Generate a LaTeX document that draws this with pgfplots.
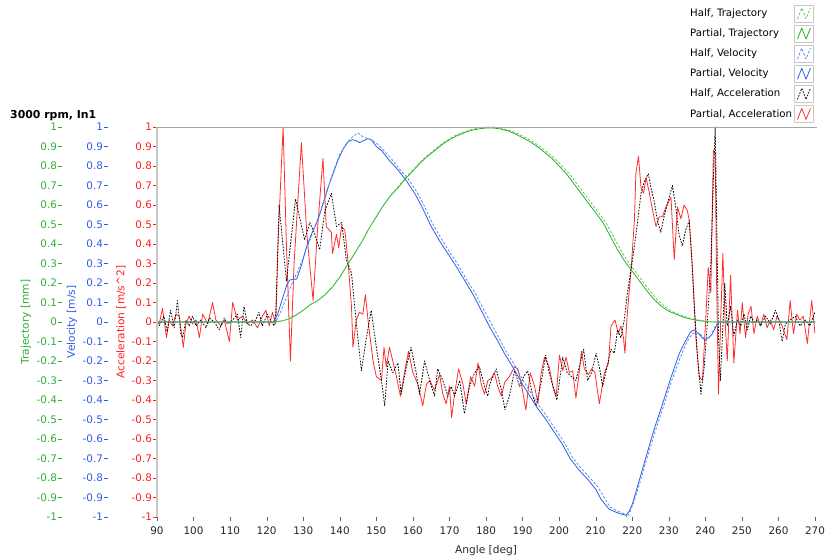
\documentclass[border=0pt]{standalone}
\usepackage{fontspec}
\setmainfont{DejaVu Sans}
\usepackage{pgfplots}
\pgfplotsset{compat=1.18}
\definecolor{tgreen}{RGB}{40,175,40}
\definecolor{tgreenl}{RGB}{95,200,95}
\definecolor{vblue}{RGB}{45,95,230}
\definecolor{vbluel}{RGB}{90,135,250}
\definecolor{ared}{RGB}{255,45,45}
\definecolor{lblgreen}{RGB}{50,175,50}
\definecolor{lblblue}{RGB}{50,90,235}
\definecolor{lblred}{RGB}{255,30,30}
\pgfplotsset{
  base/.style={
    scale only axis, width=658pt, height=390pt, anchor=south west,
    xmin=90, xmax=270, ymin=-1, ymax=1,
    axis line style={draw=none},
    tick align=outside, major tick length=4pt,
    ytick={-1,-0.9,-0.8,-0.7,-0.6,-0.5,-0.4,-0.3,-0.2,-0.1,0,0.1,0.2,0.3,0.4,0.5,0.6,0.7,0.8,0.9,1},
    yticklabels={-1,-0.9,-0.8,-0.7,-0.6,-0.5,-0.4,-0.3,-0.2,-0.1,0,0.1,0.2,0.3,0.4,0.5,0.6,0.7,0.8,0.9,1},
    ytick pos=left,
    tick label style={font=\fontsize{10.4}{12}\selectfont},
    yticklabel style={inner xsep=0.8pt},
    label style={font=\fontsize{10.6}{12}\selectfont},
    ylabel style={at={(axis description cs:-0.0547,0.5)}, anchor=center},
    /pgf/number format/assume math mode=true,
  }
}
\begin{document}
\begin{tikzpicture}
\useasboundingbox (0,0) rectangle (838pt,558pt);
% green (trajectory) scale
\begin{axis}[base, at={(62pt,41pt)}, xtick=\empty,
  yticklabel style={text=lblgreen}, ytick style={color=lblgreen},
  ylabel={Trajectory [mm]}, ylabel style={text=lblgreen}]
\end{axis}
% blue (velocity) scale
\begin{axis}[base, at={(108pt,41pt)}, xtick=\empty,
  yticklabel style={text=lblblue}, ytick style={color=lblblue},
  ylabel={Velocity [m/s]}, ylabel style={text=lblblue}]
\end{axis}
% main axis (acceleration)
\begin{axis}[base, at={(157pt,41pt)},
  yticklabel style={text=lblred}, ytick style={color=lblred},
  ylabel={Acceleration [m/s\^{}2]}, ylabel style={text=lblred},
  xtick={90,100,...,270}, xtick pos=left, xtick style={color=black!60},
  xticklabel style={text=black!85, yshift=-2pt},
  xlabel={Angle [deg]}, xlabel style={text=black!85, yshift=-4pt},
  no markers,
  every axis plot/.append style={line join=round},
  title={\bfseries 3000 rpm, In1},
  title style={at={(axis description cs:-0.2234,1)}, anchor=base west, inner sep=0pt, yshift=2pt, font=\fontsize{10.9}{13}\selectfont},
  extra description/.code={
    \draw[black!22, line width=1.6pt] (axis description cs:0,0) -- (axis description cs:0,1);
    \draw[black!35, line width=0.8pt] (axis description cs:0,1) -- (axis description cs:1.003,1);},
  legend style={at={(axis description cs:1,1)}, anchor=south east, draw=none, fill=none,
    font=\fontsize{10.2}{12}\selectfont, row sep=2.4pt, yshift=2pt, xshift=2pt},
  legend cell align=left, legend plot pos=right, reverse legend,
  legend image code/.code={
    \draw[black!22,solid,line width=0.7pt,fill=white] (0pt,-8.5pt) rectangle (19pt,8.5pt);
    \draw[#1] (3pt,-5.5pt) -- (7.3pt,5.5pt) -- (11.6pt,-5.5pt) -- (16pt,5.5pt);},
]
% Partial, Acceleration
\addplot[ared, line width=0.8pt] coordinates {
(90.0,0.00) (90.6,-0.01) (91.5,0.07) (92.6,-0.08) (93.3,0.01) (94.2,-0.02) (95.2,0.04) (96.1,0.03) (97.2,-0.13) (97.9,-0.01)
(98.8,0.03) (99.7,-0.01) (100.7,0.01) (101.6,-0.08) (102.5,0.04) (103.9,-0.01) (105.2,0.10) (106.1,0.01) (107.5,-0.02) (108.4,0.01)
(109.8,-0.10) (110.7,0.10) (112.0,0.01) (113.4,0.03) (114.7,-0.01) (116.1,0.01) (117.5,-0.03) (118.8,0.03) (119.8,0.06) (120.7,-0.02)
(121.6,0.05) (122.5,-0.01) (123.2,0.45) (124.5,1.00) (125.4,0.40) (126.5,-0.20) (127.5,0.30) (129.5,0.92) (131.0,0.45) (132.7,0.11)
(134.0,0.50) (135.4,0.84) (136.3,0.49) (137.7,0.46) (138.0,0.35) (139.1,0.45) (139.7,0.38) (140.5,0.49) (141.4,0.47) (142.3,0.30)
(143.2,0.08) (143.6,-0.13) (144.5,0.01) (145.4,0.05) (146.3,0.04) (147.0,0.14) (147.9,-0.02) (149.1,-0.20) (150.0,-0.28) (151.4,-0.30)
(152.1,-0.13) (152.7,-0.23) (153.6,-0.13) (154.5,-0.20) (155.5,-0.28) (156.6,-0.38) (157.7,-0.26) (158.8,-0.15) (160.0,-0.26) (161.4,-0.32)
(162.7,-0.43) (163.7,-0.32) (164.6,-0.30) (165.9,-0.35) (167.3,-0.27) (168.2,-0.37) (169.1,-0.42) (170.0,-0.33) (170.6,-0.49) (171.4,-0.37)
(172.5,-0.24) (173.7,-0.32) (174.6,-0.42) (175.8,-0.28) (176.9,-0.33) (177.8,-0.21) (178.7,-0.32) (179.6,-0.37) (180.5,-0.30) (181.4,-0.29)
(182.3,-0.26) (183.2,-0.33) (184.2,-0.38) (185.1,-0.31) (186.4,-0.28) (187.8,-0.23) (188.7,-0.24) (189.6,-0.31) (190.9,-0.45) (192.1,-0.26)
(193.3,-0.33) (194.2,-0.42) (195.1,-0.26) (196.0,-0.18) (197.3,-0.23) (198.3,-0.33) (199.2,-0.38) (200.1,-0.17) (201.0,-0.25) (201.9,-0.18)
(202.8,-0.26) (203.7,-0.25) (204.6,-0.39) (205.5,-0.26) (206.1,-0.15) (206.9,-0.24) (208.0,-0.27) (208.9,-0.24) (209.8,-0.26) (211.0,-0.42)
(212.4,-0.26) (213.5,-0.21) (214.2,-0.02) (215.3,0.01) (216.2,-0.06) (216.9,-0.02) (217.6,-0.08) (218.0,-0.16) (218.6,0.03) (219.7,0.27)
(220.6,0.52) (221.0,0.76) (221.7,0.85) (222.4,0.69) (223.1,0.66) (223.8,0.74) (224.7,0.66) (225.6,0.57) (226.5,0.49) (227.4,0.54)
(228.3,0.54) (229.2,0.59) (230.6,0.64) (231.5,0.32) (232.4,0.59) (233.3,0.53) (234.2,0.60) (235.1,0.57) (235.6,0.52) (236.5,0.27)
(237.4,-0.08) (238.3,-0.28) (239.2,-0.30) (240.1,0.01) (240.8,0.28) (241.5,0.15) (242.2,0.88) (242.7,0.86) (243.1,0.18) (243.6,-0.37)
(244.2,0.01) (244.8,0.35) (245.4,0.01) (246.0,-0.20) (246.9,0.24) (247.8,-0.21) (248.8,0.06) (249.5,-0.06) (250.1,0.10) (251.0,-0.08)
(251.7,0.04) (252.5,0.08) (253.3,-0.06) (254.2,0.03) (255.1,-0.02) (256.0,0.04) (256.9,-0.03) (257.8,0.01) (258.7,-0.04) (259.6,0.03)
(261.0,-0.02) (262.3,-0.09) (263.2,0.11) (264.1,-0.06) (265.0,0.04) (265.9,0.01) (266.8,0.03) (267.9,-0.11) (269.1,0.11) (270.0,-0.06)
};
\addlegendentry{Partial, Acceleration}
% Half, Acceleration
\addplot[black, line width=0.8pt, dash pattern=on 1.6pt off 1.4pt] coordinates {
(90.0,-0.03) (90.6,-0.02) (91.9,0.03) (92.8,-0.05) (93.7,0.06) (94.7,-0.03) (95.6,0.11) (96.5,-0.06) (97.0,-0.08) (97.9,0.01)
(98.8,-0.02) (99.7,0.03) (100.7,-0.02) (102.0,0.01) (103.4,-0.03) (104.3,0.02) (105.7,0.00) (107.0,-0.04) (108.4,0.02) (109.3,-0.01)
(110.7,0.01) (112.0,0.04) (112.9,-0.08) (113.8,0.08) (114.7,-0.01) (115.6,-0.02) (117.0,0.01) (117.9,0.05) (118.8,-0.02) (120.2,0.04)
(121.1,0.01) (122.0,-0.02) (122.5,0.05) (123.4,0.60) (125.4,0.21) (127.9,0.63) (130.4,0.42) (131.8,0.51) (133.2,0.45) (134.5,0.37)
(135.9,0.57) (137.7,0.66) (139.1,0.49) (140.5,0.51) (141.8,0.32) (143.2,0.25) (144.5,0.00) (145.9,-0.25) (147.3,-0.08) (148.6,0.06)
(150.0,-0.13) (151.4,-0.30) (152.3,-0.43) (153.2,-0.20) (154.5,-0.26) (155.9,-0.21) (156.8,-0.37) (158.2,-0.23) (159.5,-0.13) (160.9,-0.26)
(161.8,-0.37) (163.2,-0.20) (164.6,-0.30) (165.9,-0.38) (166.8,-0.24) (168.2,-0.30) (169.6,-0.38) (170.5,-0.33) (171.4,-0.38) (172.8,-0.30)
(174.1,-0.47) (175.5,-0.33) (176.9,-0.26) (178.2,-0.23) (179.6,-0.33) (180.5,-0.38) (181.0,-0.32) (182.8,-0.24) (184.2,-0.35) (185.2,-0.45)
(186.4,-0.38) (187.8,-0.25) (189.2,-0.33) (190.3,-0.28) (191.4,-0.25) (192.8,-0.38) (193.7,-0.43) (195.1,-0.31) (196.3,-0.17) (197.3,-0.26)
(198.3,-0.33) (199.4,-0.40) (201.0,-0.18) (202.2,-0.26) (203.4,-0.28) (204.6,-0.30) (205.5,-0.23) (206.7,-0.14) (207.8,-0.30) (208.9,-0.26)
(210.1,-0.16) (211.0,-0.23) (211.9,-0.33) (213.1,-0.23) (214.2,-0.14) (215.1,-0.16) (216.0,-0.04) (216.9,-0.08) (217.8,0.01) (218.7,0.15)
(219.7,0.27) (220.6,0.39) (221.5,0.52) (222.4,0.66) (223.3,0.72) (224.4,0.76) (225.1,0.69) (226.0,0.62) (226.9,0.52) (227.8,0.46)
(228.7,0.54) (230.1,0.64) (231.0,0.70) (231.9,0.59) (232.8,0.45) (233.7,0.39) (234.6,0.47) (235.6,0.52) (236.2,0.35) (236.9,0.11)
(237.8,-0.16) (238.8,-0.37) (239.7,-0.23) (240.6,0.01) (241.5,0.30) (242.2,0.73) (242.7,1.00) (243.1,0.52) (243.6,-0.07) (244.1,-0.30)
(244.7,-0.06) (245.3,0.20) (246.0,-0.02) (246.9,0.08) (247.8,-0.07) (248.8,0.01) (249.7,-0.02) (250.6,0.04) (251.5,-0.04) (252.4,0.03)
(253.3,0.00) (254.2,0.01) (255.1,-0.02) (256.5,0.03) (257.8,-0.01) (259.2,0.06) (260.1,0.01) (261.0,-0.10) (261.9,-0.01) (263.2,0.01)
(264.6,0.03) (265.9,-0.02) (267.3,0.01) (268.6,-0.02) (270.0,0.05)
};
\addlegendentry{Half, Acceleration}
% Partial, Velocity
\addplot[vblue, line width=0.8pt] coordinates {
(90,0) (121.8,0) (123,0.04) (124.5,0.13) (125.5,0.19) (126.3,0.215) (127.5,0.22) (128.2,0.22) (129.5,0.29) (130.9,0.386)
(132.7,0.47) (133.5,0.50) (134.5,0.55) (136.8,0.69) (139.5,0.83) (141,0.89) (142.3,0.925) (143.5,0.935) (144.5,0.93) (145.4,0.92)
(146.5,0.93) (147.7,0.94) (148.6,0.935) (150.0,0.90) (151.4,0.88) (153.5,0.83) (155.9,0.78) (158,0.73) (160.5,0.66) (162.5,0.59)
(165,0.49) (167.5,0.41) (169.6,0.35) (172,0.28) (174.1,0.215) (176.5,0.14) (178.7,0.06) (181,-0.025) (183,-0.09) (185,-0.16)
(187.3,-0.23) (190,-0.32) (192,-0.38) (194,-0.44) (196.4,-0.50) (198.5,-0.56) (201,-0.63) (203,-0.70) (205.5,-0.76) (208,-0.81)
(210.1,-0.86) (211.5,-0.91) (213.7,-0.96) (215.5,-0.975) (217,-0.985) (218.3,-0.99) (219.2,-0.97) (220.1,-0.93) (221.5,-0.84) (223.8,-0.69)
(226,-0.55) (228.3,-0.42) (230.5,-0.29) (232.9,-0.16) (234.5,-0.10) (236.0,-0.05) (237.0,-0.04) (238.2,-0.06) (239.3,-0.085) (240.1,-0.09)
(241.0,-0.08) (241.9,-0.06) (243.0,-0.02) (243.8,0.0) (270,0)
};
\addlegendentry{Partial, Velocity}
% Half, Velocity
\addplot[vbluel, line width=0.8pt, dash pattern=on 2.5pt off 1.8pt] coordinates {
(90,0) (122.5,0) (124,0.06) (125.5,0.13) (127,0.20) (128.5,0.26) (130,0.33) (132,0.43) (134,0.53) (136,0.64)
(138,0.76) (140,0.86) (142,0.92) (143.5,0.95) (145,0.97) (146.3,0.95) (147.7,0.94) (149,0.93) (150.5,0.91) (152,0.88)
(154,0.84) (156.5,0.78) (158.5,0.74) (161,0.67) (163,0.60) (165.5,0.50) (168,0.42) (170,0.36) (172.5,0.29) (174.6,0.22)
(177,0.15) (179.2,0.07) (181.5,-0.01) (183.5,-0.08) (185.5,-0.15) (187.8,-0.22) (190.5,-0.31) (192.5,-0.37) (194.5,-0.43) (196.9,-0.49)
(199,-0.55) (201.5,-0.62) (203.5,-0.69) (206,-0.75) (208.5,-0.80) (210.6,-0.845) (212,-0.89) (214,-0.95) (216,-0.97) (218,-0.985)
(218.6,-1.0) (219.5,-0.97) (220.5,-0.92) (222,-0.83) (224,-0.70) (226.3,-0.56) (228.6,-0.43) (230.8,-0.30) (233.2,-0.18) (235,-0.10)
(236.5,-0.06) (237.5,-0.05) (238.5,-0.06) (239.5,-0.08) (240.5,-0.085) (241.5,-0.07) (242.5,-0.03) (243.5,0) (270,0)
};
\addlegendentry{Half, Velocity}
% Partial, Trajectory
\addplot[tgreen, line width=0.8pt] coordinates {
(90,0) (122,0) (124,0.005) (126,0.015) (128,0.035) (130,0.06) (132,0.09) (134,0.11) (136,0.14) (138,0.18)
(140,0.23) (142,0.29) (144,0.35) (146,0.41) (148,0.48) (150,0.54) (152,0.60) (154,0.65) (156,0.69) (158,0.735)
(160,0.775) (162,0.815) (164,0.85) (166,0.88) (168,0.91) (170,0.935) (172,0.955) (174,0.97) (176,0.983) (178,0.99)
(180,0.995) (182,0.995) (184,0.99) (186,0.98) (188,0.965) (190,0.945) (192,0.925) (194,0.90) (196,0.87) (198,0.84)
(200,0.80) (202,0.76) (204,0.71) (206,0.66) (208,0.61) (210,0.56) (212,0.51) (214,0.44) (216,0.37) (218,0.31)
(220,0.26) (222,0.21) (224,0.16) (226,0.115) (228,0.08) (230,0.055) (232,0.04) (234,0.025) (236,0.015) (238,0.008)
(240,0.003) (242,0) (270,0)
};
\addlegendentry{Partial, Trajectory}
% Half, Trajectory
\addplot[tgreenl, line width=0.8pt, dash pattern=on 2.5pt off 1.8pt] coordinates {
(90,0) (122,0) (124,0.005) (126,0.015) (128,0.035) (130,0.06) (132,0.088) (134,0.11) (136,0.14) (138,0.18)
(140,0.23) (142,0.29) (144,0.35) (146,0.41) (148,0.48) (150,0.54) (152,0.60) (154,0.65) (156,0.695) (158,0.74)
(160,0.78) (162,0.82) (164,0.855) (166,0.885) (168,0.915) (170,0.94) (172,0.96) (174,0.975) (176,0.987) (178,0.995)
(180,1.0) (182,1.0) (184,0.995) (186.8,0.98) (188.8,0.965) (190.8,0.945) (192.8,0.925) (194.8,0.90) (196.8,0.87) (198.8,0.84)
(200.8,0.80) (202.8,0.76) (204.8,0.71) (206.8,0.66) (208.8,0.61) (210.8,0.56) (212.8,0.51) (214.8,0.44) (216.8,0.37) (218.8,0.31)
(220.8,0.26) (222.8,0.21) (224.8,0.16) (226.8,0.115) (228.8,0.08) (230.8,0.055) (232.8,0.04) (234.8,0.025) (236.8,0.015) (238.8,0.008)
(240.8,0.003) (243,0) (270,0)
};
\addlegendentry{Half, Trajectory}
\end{axis}
\end{tikzpicture}
\end{document}
